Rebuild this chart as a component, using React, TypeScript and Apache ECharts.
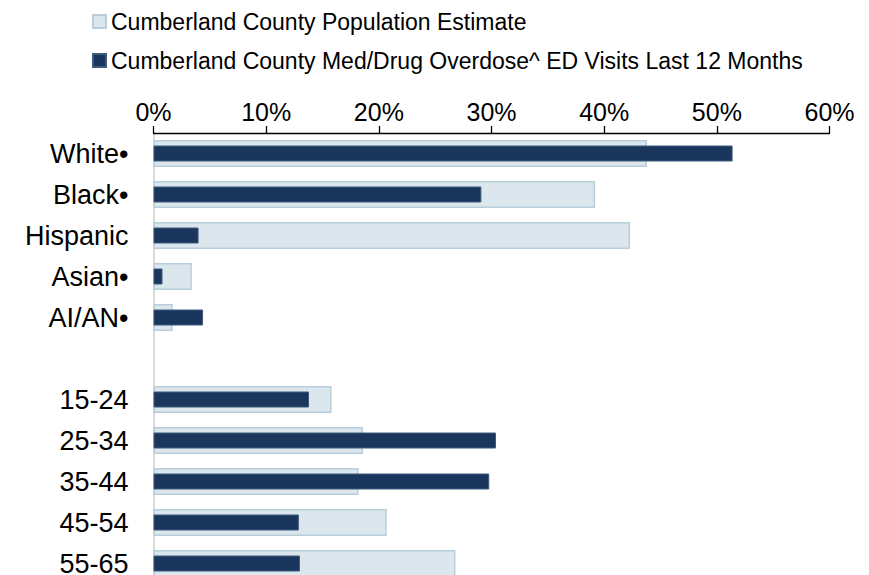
import React, { useEffect, useRef } from "react";
import * as echarts from "echarts";

const categories = ["White•", "Black•", "Hispanic", "Asian•", "AI/AN•", "", "15-24", "25-34", "35-44", "45-54", "55-65"];
const populationPct = [43.8, 39.2, 42.3, 3.4, 1.7, null, 15.8, 18.6, 18.2, 20.7, 26.8];
const edVisitsPct = [51.4, 29.1, 4.0, 0.8, 4.4, null, 13.8, 30.4, 29.8, 12.9, 13.0];
const seriesNames = [
  "Cumberland County Population Estimate",
  "Cumberland County Med/Drug Overdose^ ED Visits Last 12 Months",
];
const xTicks = { min: 0, max: 60, interval: 10 };

const FONT = "'Liberation Sans', Arial, sans-serif";

export default function App() {
  const ref = useRef<HTMLDivElement>(null);
  useEffect(() => {
    if (!ref.current) return;
    const chart = echarts.init(ref.current, undefined, { renderer: "svg" });
    chart.setOption({
      animation: false,
      backgroundColor: "#ffffff",
      textStyle: { fontFamily: FONT, color: "#000" },
      legend: {
        orient: "vertical",
        left: 87,
        top: 5,
        itemWidth: 13,
        itemHeight: 13,
        itemGap: 16,
        icon: "rect",
        textStyle: { fontSize: 23, color: "#000", fontFamily: FONT },
        data: seriesNames,
      },
      grid: { left: 153.5, right: 39.5, top: 133, bottom: 16, containLabel: false },
      xAxis: {
        type: "value",
        position: "top",
        min: xTicks.min,
        max: xTicks.max,
        interval: xTicks.interval,
        axisLine: { show: true, lineStyle: { color: "#000", width: 1.3 } },
        axisTick: { show: true, length: 7, lineStyle: { color: "#000", width: 1.3 } },
        splitLine: { show: false },
        axisLabel: {
          formatter: "{value}%",
          fontSize: 25,
          color: "#000",
          fontFamily: FONT,
          margin: 9,
        },
      },
      yAxis: [
        {
          type: "category",
          data: categories,
          inverse: true,
          axisLine: { show: true, lineStyle: { color: "#d9d9d9", width: 2 } },
          axisTick: { show: false },
          axisLabel: { fontSize: 27, lineHeight: 20, color: "#000", fontFamily: FONT, margin: 25 },
        },
        {
          type: "category",
          data: categories,
          inverse: true,
          show: false,
        },
      ],
      series: [
        {
          name: seriesNames[0],
          type: "bar",
          yAxisIndex: 0,
          data: populationPct,
          barWidth: 27,
          itemStyle: { color: "#dce6ed", borderColor: "#b8cedb", borderWidth: 1.5 },
        },
        {
          name: seriesNames[1],
          type: "bar",
          yAxisIndex: 1,
          data: edVisitsPct,
          barWidth: 16,
          itemStyle: { color: "#1b365d", borderColor: "#3d5a7f", borderWidth: 1 },
        },
      ],
    });
    return () => chart.dispose();
  }, []);
  return (
    <div
      ref={ref}
      style={{ position: "fixed", left: 0, top: 0, width: 869, height: 600, background: "#fff" }}
    />
  );
}
